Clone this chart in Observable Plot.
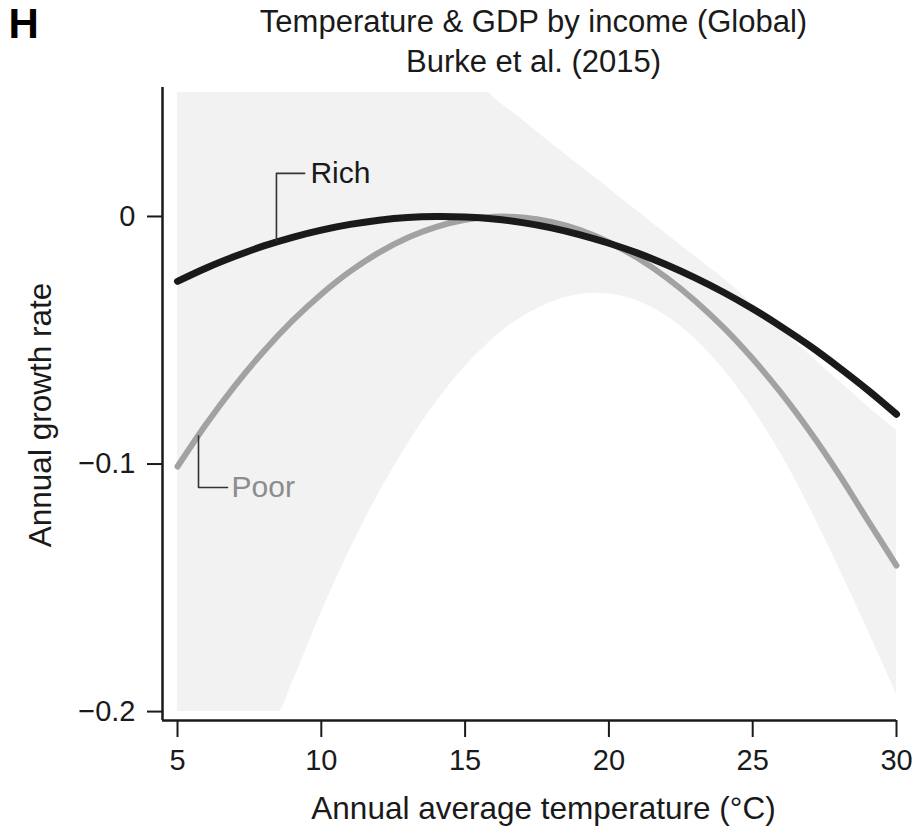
<!DOCTYPE html>
<html>
<head>
<meta charset="utf-8">
<script src="https://cdn.jsdelivr.net/npm/d3@7"></script>
<script src="https://cdn.jsdelivr.net/npm/@observablehq/plot@0.6"></script>
<style>
  html, body { margin: 0; padding: 0; background: #fff; }
  #chart svg { display: block; }
</style>
</head>
<body>
<div id="chart"></div>
<script>
// ---- data ----
const temps = [5, 6, 7, 8, 9, 10, 11, 12, 13, 14, 15, 16, 17, 18, 19, 20, 21, 22, 23, 24, 25, 26, 27, 28, 29, 30];
const richGrowth = [-0.0262, -0.0208, -0.0161, -0.0119, -0.0084, -0.0055, -0.0032, -0.0015, -0.0004, 0, -0.0002, -0.0010, -0.0025, -0.0046, -0.0074, -0.0108, -0.0148, -0.0195, -0.0248, -0.0307, -0.0373, -0.0446, -0.0524, -0.0610, -0.0701, -0.0799];
const poorGrowth = [-0.1010, -0.0838, -0.0683, -0.0544, -0.0421, -0.0314, -0.0222, -0.0146, -0.0086, -0.0042, -0.0013, -0.0001, -0.0004, -0.0022, -0.0055, -0.0104, -0.0168, -0.0247, -0.0341, -0.0450, -0.0575, -0.0715, -0.0871, -0.1042, -0.1227, -0.1410];

// confidence band (as drawn, clipped to the panel)
const bandTemps = [5, 6, 7, 8, 8.5, 9, 10, 11, 12, 13, 14, 15, 15.8, 16, 17, 18, 19, 19.6, 20, 21, 22, 23, 24, 25, 26, 27, 28, 29, 30];
const bandUpper = [0.05, 0.05, 0.05, 0.05, 0.05, 0.05, 0.05, 0.05, 0.05, 0.05, 0.05, 0.05, 0.05, 0.048, 0.039, 0.0295, 0.0204, 0.0150, 0.0113, 0.0021, -0.0071, -0.0162, -0.0253, -0.0355, -0.0458, -0.0562, -0.0665, -0.0768, -0.0865];
const bandLower = [-0.2, -0.2, -0.2, -0.2, -0.2, -0.188, -0.160, -0.1345, -0.1119, -0.092, -0.0749, -0.0606, -0.0512, -0.0491, -0.0405, -0.0346, -0.0315, -0.0310, -0.0313, -0.0341, -0.0402, -0.0495, -0.062, -0.0777, -0.0963, -0.1180, -0.1420, -0.1670, -0.1930];

const xTicks = [5, 10, 15, 20, 25, 30];
const yTicks = [-0.2, -0.1, 0];

// annotation leaders (temperature, growth)
const richLeaderX = [8.44, 8.44, 9.42];
const richLeaderY = [-0.0098, 0.0174, 0.0174];
const poorLeaderX = [5.73, 5.73, 6.74];
const poorLeaderY = [-0.0886, -0.1095, -0.1095];
const seriesLabels = ["Rich", "Poor"];
const labelX = [9.62, 6.88];
const labelY = [0.0174, -0.1095];

const titleText = "Temperature & GDP by income (Global)";
const subtitleText = "Burke et al. (2015)";
const panelLetter = "H";
const xLabel = "Annual average temperature (°C)";
const yLabel = "Annual growth rate";

// ---- build tables ----
const rich = temps.map((t, i) => ({t, g: richGrowth[i]}));
const poor = temps.map((t, i) => ({t, g: poorGrowth[i]}));
const band = bandTemps.map((t, i) => ({t, lo: bandLower[i], hi: bandUpper[i]}));
const richLeader = richLeaderX.map((t, i) => ({t, g: richLeaderY[i]}));
const poorLeader = poorLeaderX.map((t, i) => ({t, g: poorLeaderY[i]}));

const xDomain = [4.478, 30];
const yDomain = [-0.2036, 0.0521];
const font = "'Liberation Sans', Arial, Helvetica, sans-serif";

const chart = Plot.plot({
  width: 923,
  height: 834,
  marginTop: 87,
  marginBottom: 114,
  marginLeft: 162,
  marginRight: 27,
  style: {fontFamily: font, fontSize: "29px", color: "#1a1a1a", background: "#fff"},
  x: {domain: xDomain},
  y: {domain: yDomain},
  marks: [
    Plot.areaY(band, {x: "t", y1: "lo", y2: "hi", fill: "#f2f2f2", curve: "monotone-x", clip: true}),
    Plot.line(poor, {x: "t", y: "g", stroke: "#a1a3a2", strokeWidth: 6, curve: "catmull-rom", strokeLinecap: "round"}),
    Plot.line(rich, {x: "t", y: "g", stroke: "#1a1a1a", strokeWidth: 7, curve: "catmull-rom", strokeLinecap: "round"}),
    Plot.line(richLeader, {x: "t", y: "g", stroke: "#333", strokeWidth: 1.6}),
    Plot.line(poorLeader, {x: "t", y: "g", stroke: "#333", strokeWidth: 1.6}),
    Plot.text(seriesLabels, {x: (d, i) => labelX[i], y: (d, i) => labelY[i], text: d => d,
      textAnchor: "start", fontSize: 30, fill: (d, i) => i === 0 ? "#1a1a1a" : "#8c8c8c"}),
    // axes lines
    Plot.ruleX([xDomain[0]], {y1: yDomain[0], y2: yDomain[1], stroke: "#1a1a1a", strokeWidth: 2.5}),
    Plot.ruleY([yDomain[0]], {x1: xDomain[0], x2: 30, stroke: "#1a1a1a", strokeWidth: 2.5}),
    Plot.axisX({ticks: xTicks, tickSize: 17, tickPadding: 12, fontSize: 29, label: null, stroke: "#1a1a1a", strokeWidth: 2, tickFormat: d => String(d)}),
    Plot.axisY({ticks: yTicks, tickSize: 15, tickPadding: 12, fontSize: 29, label: null, stroke: "#1a1a1a", strokeWidth: 2, tickFormat: d => d === 0 ? "0" : d3.format(".1f")(d)}),
    // axis titles, title, subtitle
    Plot.text([xLabel], {frameAnchor: "bottom", lineAnchor: "middle", textAnchor: "middle", dx: 14, dy: 88, fontSize: 31.5, fill: "#1a1a1a"}),
    Plot.text([yLabel], {frameAnchor: "left", lineAnchor: "middle", textAnchor: "middle", dx: -122, dy: 11, rotate: -90, fontSize: 31.5, fill: "#1a1a1a"}),
    Plot.text([titleText], {frameAnchor: "top", lineAnchor: "middle", textAnchor: "middle", dx: 4, dy: -65, fontSize: 31, fill: "#1a1a1a"}),
    Plot.text([subtitleText], {frameAnchor: "top", lineAnchor: "middle", textAnchor: "middle", dx: 4, dy: -25, fontSize: 31, fill: "#1a1a1a"}),
    Plot.text([panelLetter], {frameAnchor: "top-left", lineAnchor: "middle", textAnchor: "start", dx: -154, dy: -63, fontSize: 42, fontWeight: "bold", fill: "#000"})
  ]
});
document.getElementById("chart").appendChild(chart);
</script>
</body>
</html>
